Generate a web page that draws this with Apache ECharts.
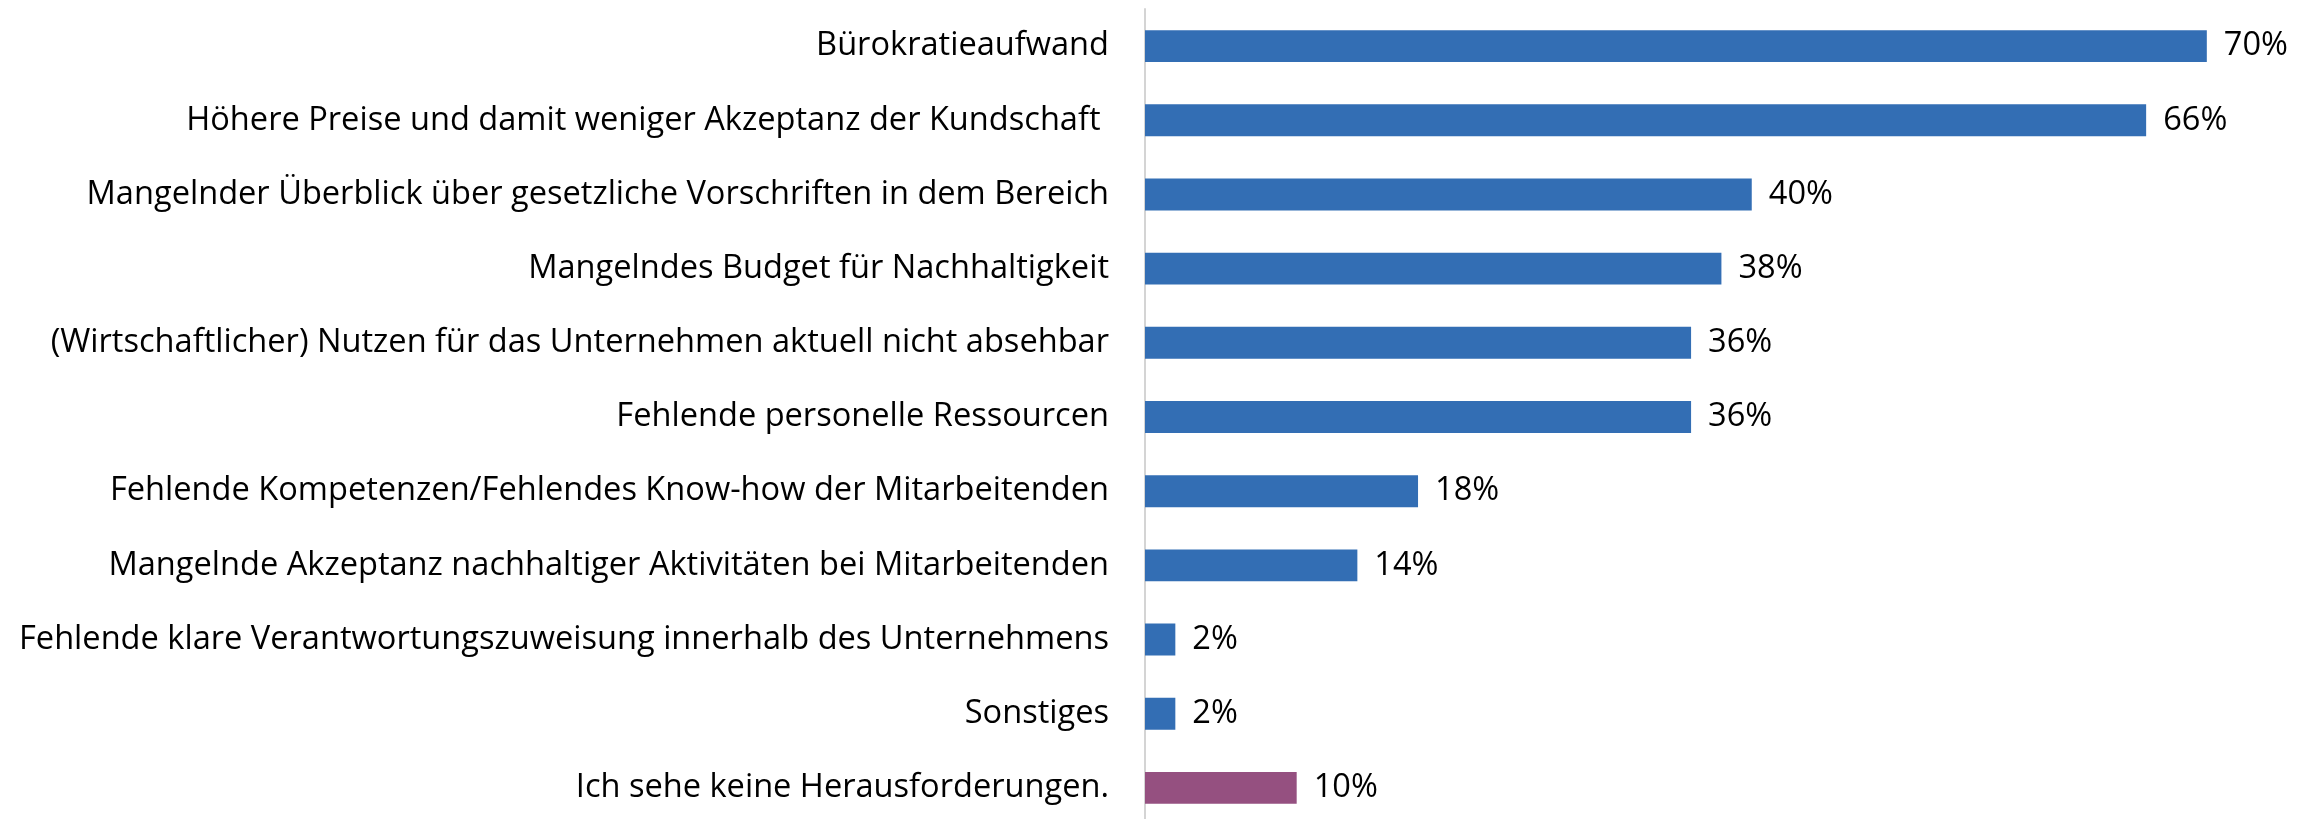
<!DOCTYPE html>
<html>
<head>
<meta charset="utf-8">
<title>Herausforderungen</title>
<script src="https://cdn.jsdelivr.net/npm/echarts@6/dist/echarts.min.js"></script>
<style>
  html, body { margin: 0; padding: 0; background: #fff; }
  #chart { width: 2313px; height: 819px; }
</style>
</head>
<body>
<div id="chart"></div>
<script>
// categories top -> bottom
var categories = [
    'Bürokratieaufwand',
    'Höhere Preise und damit weniger Akzeptanz der Kundschaft ',
    'Mangelnder Überblick über gesetzliche Vorschriften in dem Bereich',
    'Mangelndes Budget für Nachhaltigkeit',
    '(Wirtschaftlicher) Nutzen für das Unternehmen aktuell nicht absehbar',
    'Fehlende personelle Ressourcen',
    'Fehlende Kompetenzen/Fehlendes Know-how der Mitarbeitenden',
    'Mangelnde Akzeptanz nachhaltiger Aktivitäten bei Mitarbeitenden',
    'Fehlende klare Verantwortungszuweisung innerhalb des Unternehmens',
    'Sonstiges',
    'Ich sehe keine Herausforderungen.'
];
var values = [70, 66, 40, 38, 36, 36, 18, 14, 2, 2, 10];
var otherCategories = ['Ich sehe keine Herausforderungen.'];

var fontFamily = '"Open Sans", Lato, sans-serif';
var fontSize = 32.6;

var chart = echarts.init(document.getElementById('chart'));

var option = {
    backgroundColor: '#ffffff',
    animation: false,
    grid: {
        left: 1145,
        top: 9,
        width: 1168,
        height: 816,
        outerBoundsMode: 'none'
    },
    xAxis: {
        type: 'value',
        min: 0,
        max: 77,
        show: false
    },
    yAxis: {
        type: 'category',
        data: categories,
        inverse: true,
        axisTick: { show: false },
        axisLine: {
            show: true,
            lineStyle: { color: '#d4d4d4', width: 2 }
        },
        axisLabel: {
            margin: 36,
            color: '#000',
            fontFamily: fontFamily,
            fontSize: fontSize,
            padding: [8, 0, 0, 0]
        },
        splitLine: { show: false }
    },
    series: [{
        type: 'bar',
        data: values,
        barCategoryGap: '57%',
        itemStyle: {
            color: function (p) {
                return otherCategories.indexOf(p.name) >= 0 ? '#955080' : '#336eb4';
            }
        },
        label: {
            show: true,
            position: 'right',
            distance: 17,
            formatter: '{c}%',
            color: '#000',
            fontFamily: fontFamily,
            fontSize: fontSize,
            padding: [8, 0, 0, 0]
        }
    }]
};

chart.setOption(option);
</script>
</body>
</html>
